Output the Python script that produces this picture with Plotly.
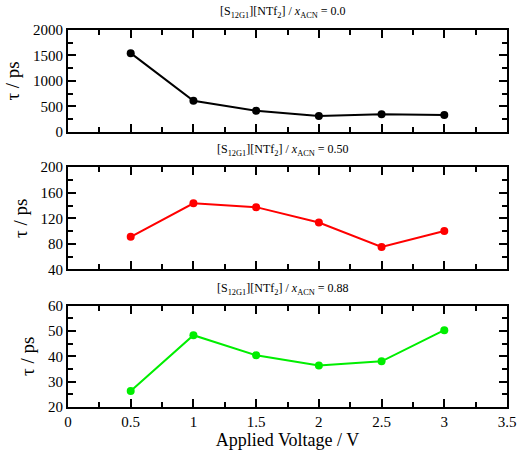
import plotly.graph_objects as go
from plotly.subplots import make_subplots

voltage = [0.5, 1.0, 1.5, 2.0, 2.5, 3.0]
tau_x000 = [1545, 610, 412, 310, 345, 328]
tau_x050 = [91, 143.5, 137.5, 113.5, 75, 100]
tau_x088 = [26.3, 48.3, 40.4, 36.4, 38.0, 50.3]

titles = [
    "[S<sub>12G1</sub>][NTf<sub>2</sub>] / <i>x</i><sub>ACN</sub> = 0.0",
    "[S<sub>12G1</sub>][NTf<sub>2</sub>] / <i>x</i><sub>ACN</sub> = 0.50",
    "[S<sub>12G1</sub>][NTf<sub>2</sub>] / <i>x</i><sub>ACN</sub> = 0.88",
]
colors = ["#000000", "#ff0000", "#00ee00"]
series = [tau_x000, tau_x050, tau_x088]
yranges = [[0, 2000], [40, 200], [20, 60]]
ydtick = [500, 40, 10]
domains = [[0.730, 1.0], [0.365, 0.636], [0.0, 0.269]]
title_y = [1.047, 0.681, 0.313]

FONT = "Liberation Serif, Times New Roman, serif"

fig = make_subplots(rows=3, cols=1)
for i in range(3):
    r = i + 1
    fig.add_trace(go.Scatter(
        x=voltage, y=series[i], mode="lines+markers",
        line=dict(color=colors[i], width=2),
        marker=dict(color=colors[i], size=8),
        showlegend=False,
    ), row=r, col=1)
    fig.update_xaxes(
        range=[0, 3.5], dtick=0.5,
        ticks="inside", ticklen=8, tickwidth=2, tickcolor="black",
        minor=dict(ticks="inside", ticklen=5, tickwidth=1.5, tickcolor="black", dtick=0.25),
        showline=True, linecolor="black", linewidth=2, mirror="ticks",
        showgrid=False, zeroline=False,
        showticklabels=(i == 2),
        tickfont=dict(family=FONT, size=15, color="black"),
        row=r, col=1,
    )
    fig.update_yaxes(
        domain=domains[i], range=yranges[i], dtick=ydtick[i], tick0=yranges[i][0],
        ticks="inside", ticklen=8, tickwidth=2, tickcolor="black",
        minor=dict(ticks="inside", ticklen=5, tickwidth=1.5, tickcolor="black", dtick=ydtick[i] / 2),
        showline=True, linecolor="black", linewidth=2, mirror="ticks",
        showgrid=False, zeroline=False,
        tickfont=dict(family=FONT, size=15, color="black"),
        title=dict(text="τ / ps", font=dict(family=FONT, size=19, color="black"), standoff=8),
        row=r, col=1,
    )
    fig.add_annotation(
        text=titles[i], xref="paper", yref="paper", x=0.49, y=title_y[i],
        xanchor="center", yanchor="middle", showarrow=False,
        font=dict(family=FONT, size=12, color="black"),
    )

fig.update_xaxes(title=dict(text="Applied Voltage / V", font=dict(family=FONT, size=18, color="black"), standoff=2), row=3, col=1)

fig.update_layout(
    width=528, height=457,
    margin=dict(l=63, r=16, t=30, b=44),
    paper_bgcolor="white", plot_bgcolor="white",
)
fig.write_html("out.html")
